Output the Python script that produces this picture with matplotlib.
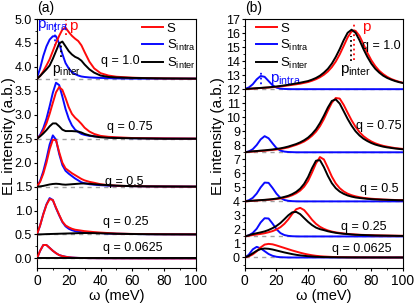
import matplotlib
matplotlib.use("Agg")
import matplotlib.pyplot as plt
from matplotlib.ticker import MultipleLocator, FormatStrFormatter

plt.rcParams['font.family'] = ['Liberation Sans', 'DejaVu Sans']
plt.rcParams['mathtext.default'] = 'regular'

# ---------------- panel (a) data ----------------
xa = [0, 2, 4, 6, 8, 10, 12, 14, 16, 18, 20, 22, 24, 26, 28, 30, 33, 36, 40, 45, 50, 60, 70, 80, 100]
q_a = ["q = 1.0", "q = 0.75", "q = 0.5", "q = 0.25", "q = 0.0625"]
off_a = [3.75, 2.5, 1.5, 0.5, 0.0]

S_a = [
    [0, 0.06, 0.16, 0.28, 0.41, 0.58, 0.75, 0.90, 1.03, 1.07, 0.98, 0.90, 0.84, 0.79, 0.70, 0.56, 0.36, 0.22, 0.12, 0.07, 0.045, 0.025, 0.015, 0.01, 0.005],
    [0, 0.06, 0.17, 0.32, 0.52, 0.75, 0.97, 1.08, 1.02, 0.85, 0.66, 0.52, 0.44, 0.38, 0.31, 0.23, 0.15, 0.10, 0.06, 0.04, 0.03, 0.015, 0.01, 0.007, 0.003],
    [0, 0.10, 0.27, 0.50, 0.78, 0.98, 0.97, 0.72, 0.50, 0.38, 0.33, 0.28, 0.24, 0.20, 0.16, 0.13, 0.10, 0.08, 0.05, 0.03, 0.02, 0.01, 0.005, 0.003, 0],
    [0, 0.19, 0.42, 0.62, 0.74, 0.72, 0.56, 0.41, 0.27, 0.19, 0.15, 0.12, 0.10, 0.09, 0.08, 0.07, 0.06, 0.05, 0.04, 0.03, 0.02, 0.012, 0.008, 0.005, 0.003],
    [0, 0.16, 0.28, 0.28, 0.22, 0.16, 0.11, 0.07, 0.05, 0.035, 0.025, 0.018, 0.014, 0.011, 0.009, 0.008, 0.006, 0.005, 0.004, 0.003, 0.002, 0.001, 0, 0, 0],
]
Sintra_a = [
    [0.02, 0.22, 0.48, 0.68, 0.82, 0.89, 0.89, 0.74, 0.52, 0.33, 0.22, 0.14, 0.10, 0.07, 0.05, 0.04, 0.03, 0.025, 0.02, 0.015, 0.01, 0.005, 0.005, 0.005, 0.005],
    [0, 0.08, 0.22, 0.42, 0.68, 0.96, 1.17, 1.12, 0.88, 0.62, 0.42, 0.28, 0.19, 0.14, 0.10, 0.08, 0.06, 0.05, 0.04, 0.03, 0.02, 0.01, 0.008, 0.005, 0],
    [0, 0.12, 0.32, 0.58, 0.88, 1.07, 0.98, 0.68, 0.45, 0.33, 0.27, 0.22, 0.17, 0.13, 0.09, 0.07, 0.05, 0.04, 0.03, 0.02, 0.015, 0.01, 0.005, 0.003, 0],
    [0, 0.19, 0.43, 0.63, 0.76, 0.72, 0.55, 0.40, 0.26, 0.17, 0.12, 0.09, 0.07, 0.06, 0.05, 0.045, 0.04, 0.035, 0.03, 0.02, 0.015, 0.01, 0.006, 0.004, 0.002],
    [0, 0.16, 0.28, 0.28, 0.22, 0.16, 0.11, 0.07, 0.05, 0.035, 0.025, 0.018, 0.014, 0.011, 0.009, 0.008, 0.006, 0.005, 0.004, 0.003, 0.002, 0.001, 0, 0, 0],
]
Sinter_a = [
    [0, 0.06, 0.13, 0.20, 0.28, 0.42, 0.58, 0.74, 0.78, 0.68, 0.58, 0.51, 0.46, 0.43, 0.38, 0.30, 0.20, 0.13, 0.07, 0.04, 0.03, 0.02, 0.015, 0.01, 0.005],
    [0, 0.05, 0.11, 0.18, 0.26, 0.32, 0.32, 0.26, 0.19, 0.16, 0.16, 0.16, 0.155, 0.15, 0.13, 0.10, 0.07, 0.05, 0.03, 0.02, 0.015, 0.01, 0.005, 0, 0],
    [0, 0.005, 0.015, 0.03, 0.045, 0.055, 0.06, 0.055, 0.045, 0.04, 0.045, 0.05, 0.055, 0.06, 0.065, 0.065, 0.06, 0.05, 0.04, 0.03, 0.02, 0.01, 0.005, 0.003, 0],
    [0, 0.002, 0.005, 0.008, 0.01, 0.012, 0.014, 0.016, 0.018, 0.02, 0.022, 0.024, 0.026, 0.028, 0.03, 0.03, 0.03, 0.028, 0.025, 0.02, 0.015, 0.01, 0.006, 0.004, 0.002],
    [0] * 25,
]

# ---------------- panel (b) data ----------------
xb = [0, 2.5, 5, 7.5, 10, 12.5, 15, 17.5, 20, 22.5, 25, 27.5, 30, 32.5, 35, 37.5, 40, 42.5, 45, 47.5,
      50, 52.5, 55, 57.5, 60, 62.5, 65, 67.5, 70, 72.5, 75, 77.5, 80, 82.5, 85, 87.5, 90, 92.5, 95, 97.5, 100]
q_b = ["q = 1.0", "q = 0.75", "q = 0.5", "q = 0.25", "q = 0.0625"]
off_b = [12, 7.5, 4, 1.5, 0]

S_b = [
    [0, 0.02, 0.04, 0.06, 0.08, 0.10, 0.12, 0.14, 0.17, 0.20, 0.23, 0.27, 0.31, 0.35, 0.39, 0.45, 0.51, 0.60, 0.71, 0.85,
     1.03, 1.26, 1.57, 1.97, 2.48, 3.08, 3.69, 4.12, 4.16, 3.80, 3.21, 2.59, 2.06, 1.64, 1.31, 1.07, 0.88, 0.73, 0.62, 0.53, 0.45],
    [0, 0.03, 0.05, 0.07, 0.09, 0.11, 0.14, 0.17, 0.20, 0.24, 0.29, 0.35, 0.44, 0.53, 0.64, 0.77, 0.95, 1.18, 1.47, 1.86,
     2.37, 2.97, 3.53, 3.87, 3.83, 3.38, 2.82, 2.28, 1.82, 1.44, 1.15, 0.94, 0.77, 0.64, 0.54, 0.46, 0.40, 0.35, 0.30, 0.27, 0.24],
    [0, 0.02, 0.04, 0.06, 0.08, 0.10, 0.12, 0.14, 0.17, 0.21, 0.27, 0.34, 0.44, 0.58, 0.77, 1.05, 1.46, 2.06, 2.71, 3.16,
     2.99, 2.40, 1.77, 1.28, 0.94, 0.71, 0.55, 0.44, 0.36, 0.30, 0.25, 0.22, 0.19, 0.17, 0.15, 0.13, 0.12, 0.11, 0.10, 0.09, 0.09],
    [0, 0.05, 0.10, 0.14, 0.18, 0.23, 0.30, 0.38, 0.50, 0.66, 0.90, 1.22, 1.61, 1.94, 2.04, 1.88, 1.55, 1.19, 0.90, 0.69,
     0.54, 0.43, 0.35, 0.29, 0.25, 0.21, 0.18, 0.16, 0.14, 0.12, 0.11, 0.10, 0.09, 0.08, 0.075, 0.07, 0.065, 0.06, 0.055, 0.05, 0.05],
    [0, 0.08, 0.22, 0.44, 0.72, 0.92, 0.97, 0.94, 0.86, 0.77, 0.68, 0.59, 0.50, 0.42, 0.34, 0.27, 0.21, 0.16, 0.12, 0.09,
     0.07, 0.055, 0.04, 0.03, 0.025, 0.02, 0.015, 0.012, 0.01, 0.008, 0.007, 0.006, 0.005, 0.004, 0.004, 0.003, 0.003, 0.002, 0.002, 0.002, 0.002],
]
Sintra_b = [
    [0.02, 0.12, 0.35, 0.70, 0.94, 0.88, 0.58, 0.28, 0.11, 0.04, 0.015, 0.005] + [0] * 29,
    [0, 0.06, 0.22, 0.52, 0.92, 1.15, 1.00, 0.64, 0.30, 0.12, 0.05, 0.02, 0.01] + [0] * 28,
    [0, 0.08, 0.25, 0.56, 1.00, 1.34, 1.32, 0.96, 0.55, 0.25, 0.10, 0.04, 0.015, 0.005] + [0] * 27,
    [0, 0.08, 0.25, 0.55, 1.00, 1.30, 1.28, 0.92, 0.52, 0.24, 0.10, 0.04, 0.015, 0.005] + [0] * 27,
    [0, 0.20, 0.58, 0.76, 0.65, 0.45, 0.25, 0.12, 0.05, 0.02, 0.01] + [0] * 30,
]
Sinter_b = [
    [0, 0.03, 0.05, 0.07, 0.09, 0.11, 0.13, 0.16, 0.19, 0.23, 0.27, 0.31, 0.36, 0.41, 0.46, 0.52, 0.58, 0.68, 0.80, 0.96,
     1.18, 1.45, 1.82, 2.30, 2.86, 3.49, 4.02, 4.24, 4.02, 3.49, 2.86, 2.30, 1.82, 1.45, 1.18, 0.96, 0.80, 0.68, 0.58, 0.50, 0.44],
    [0, 0.04, 0.07, 0.09, 0.12, 0.14, 0.17, 0.20, 0.24, 0.28, 0.34, 0.41, 0.50, 0.59, 0.71, 0.86, 1.05, 1.31, 1.64, 2.08,
     2.61, 3.19, 3.66, 3.77, 3.47, 2.93, 2.38, 1.90, 1.50, 1.20, 0.97, 0.80, 0.66, 0.55, 0.47, 0.40, 0.35, 0.31, 0.27, 0.24, 0.21],
    [0, 0.03, 0.05, 0.07, 0.09, 0.11, 0.13, 0.16, 0.20, 0.25, 0.32, 0.40, 0.52, 0.68, 0.91, 1.25, 1.74, 2.37, 2.90, 2.94,
     2.44, 1.82, 1.30, 0.94, 0.70, 0.54, 0.42, 0.34, 0.28, 0.24, 0.21, 0.18, 0.16, 0.14, 0.13, 0.12, 0.11, 0.10, 0.09, 0.08, 0.08],
    [0, 0.08, 0.17, 0.23, 0.29, 0.36, 0.46, 0.59, 0.75, 0.96, 1.23, 1.51, 1.72, 1.75, 1.59, 1.31, 1.04, 0.81, 0.63, 0.52,
     0.45, 0.37, 0.31, 0.26, 0.22, 0.19, 0.17, 0.14, 0.12, 0.11, 0.10, 0.09, 0.08, 0.07, 0.065, 0.06, 0.055, 0.05, 0.045, 0.04, 0.035],
    [0, 0.12, 0.30, 0.48, 0.60, 0.64, 0.62, 0.57, 0.50, 0.43, 0.36, 0.30, 0.24, 0.19, 0.15, 0.12, 0.09, 0.07, 0.05, 0.04,
     0.03, 0.025, 0.02, 0.015, 0.012, 0.01, 0.008, 0.006, 0.005, 0.004, 0.003, 0.003, 0.002, 0.002, 0.002, 0.001, 0.001, 0.001, 0.001, 0.001, 0.001],
]

BLUE = "#0a0aff"
RED = "#ff0a0a"


def draw(ax, x, offs, S, Sintra, Sinter):
    for k in range(len(offs)):
        o = offs[k]
        ax.axhline(o, color="#a0a0a0", ls=(0, (3, 3)), lw=1.0, zorder=1)
        ax.plot(x, [v + o for v in Sintra[k]], color=BLUE, lw=1.4, zorder=2,
                label="S$_{intra}$" if k == 0 else None)
        ax.plot(x, [v + o for v in S[k]], color=RED, lw=1.4, zorder=3,
                label="S" if k == 0 else None)
        ax.plot(x, [v + o for v in Sinter[k]], color="black", lw=1.4, zorder=4,
                label="S$_{inter}$" if k == 0 else None)
    ax.set_xlim(0, 100)
    ax.xaxis.set_major_locator(MultipleLocator(20))
    ax.xaxis.set_minor_locator(MultipleLocator(10))
    ax.tick_params(axis="x", which="major", labelsize=10, length=2.5, pad=1.5, direction="out")
    ax.tick_params(axis="y", which="major", labelsize=9, length=2.5, pad=1, direction="out")
    ax.tick_params(which="minor", length=1.5, direction="out")
    ax.set_xlabel("ω (meV)", fontsize=10.5)
    ax.set_ylabel("EL intensity (a.b.)", fontsize=11)
    ax.xaxis.set_label_coords(0.5, -0.085)
    # legend order S, S_intra, S_inter
    h, l = ax.get_legend_handles_labels()
    order = [1, 0, 2]
    return [h[i] for i in order], [l[i] for i in order]


fig = plt.figure(figsize=(4.15, 3.07), dpi=100)
ax1 = fig.add_axes([0.089, 0.127, 0.383, 0.811])
ax2 = fig.add_axes([0.590, 0.127, 0.381, 0.811])

# panel (a)
h, l = draw(ax1, xa, off_a, S_a, Sintra_a, Sinter_a)
ax1.set_ylim(-0.2, 5.0)
ax1.yaxis.set_major_locator(MultipleLocator(0.5))
ax1.yaxis.set_minor_locator(MultipleLocator(0.25))
ax1.yaxis.set_major_formatter(FormatStrFormatter("%.1f"))
ax1.yaxis.set_label_coords(-0.13, 0.53)
ax1.legend(h, l, loc="upper left", bbox_to_anchor=(0.655, 0.99), frameon=False, fontsize=9.5,
           handlelength=1.6, handletextpad=0.25, labelspacing=0.2, borderpad=0.1, borderaxespad=0)
ax1.text(40, 4.12, q_a[0], fontsize=9, va="center")
ax1.text(44, 2.75, q_a[1], fontsize=9, va="center")
ax1.text(43, 1.6, q_a[2], fontsize=9, va="center")
ax1.text(41.5, 0.76, q_a[3], fontsize=9, va="center")
ax1.text(41.5, 0.21, q_a[4], fontsize=9, va="center")
ax1.plot([11.3, 11.3], [4.43, 4.9], color=BLUE, ls=":", lw=1.3)
ax1.plot([18.5, 18.5], [4.66, 5.0], color=RED, ls=":", lw=1.3)
ax1.plot([15.1, 15.1], [4.2, 4.52], color="black", ls=":", lw=1.3)
ax1.text(0.3, 4.86, "p$_{intra}$", color=BLUE, fontsize=11, va="center")
ax1.text(20.5, 4.86, "p", color=RED, fontsize=11, va="center")
ax1.text(9.5, 3.92, "p$_{inter}$", color="black", fontsize=10, va="center")
ax1.text(0, 1.015, "(a)", transform=ax1.transAxes, fontsize=10, va="bottom")

# panel (b)
h, l = draw(ax2, xb, off_b, S_b, Sintra_b, Sinter_b)
ax2.set_ylim(-0.75, 17)
ax2.yaxis.set_major_locator(MultipleLocator(1))
ax2.yaxis.set_minor_locator(MultipleLocator(0.5))
ax2.yaxis.set_label_coords(-0.125, 0.53)
ax2.legend(h, l, loc="upper left", bbox_to_anchor=(0.06, 0.99), frameon=False, fontsize=9.5,
           handlelength=1.6, handletextpad=0.25, labelspacing=0.2, borderpad=0.1, borderaxespad=0)
ax2.text(74, 15.1, q_b[0], fontsize=9, va="center")
ax2.text(70, 9.36, q_b[1], fontsize=9, va="center")
ax2.text(73, 4.86, q_b[2], fontsize=9, va="center")
ax2.text(61, 2.2, q_b[3], fontsize=9, va="center")
ax2.text(55, 0.64, q_b[4], fontsize=9, va="center")
ax2.plot([10.5, 10.5], [12.0, 13.4], color=BLUE, ls=":", lw=1.3)
ax2.plot([69, 69], [14.1, 16.7], color=RED, ls=":", lw=1.3)
ax2.plot([67, 67], [14.0, 15.8], color="black", ls=":", lw=1.3)
ax2.text(16, 12.72, "p$_{intra}$", color=BLUE, fontsize=11, va="center")
ax2.text(74, 16.4, "p", color=RED, fontsize=11, va="center")
ax2.text(60, 13.3, "p$_{inter}$", color="black", fontsize=11, va="center")
ax2.text(0, 1.015, "(b)", transform=ax2.transAxes, fontsize=10, va="bottom")

fig.savefig("out.png", dpi=100)
